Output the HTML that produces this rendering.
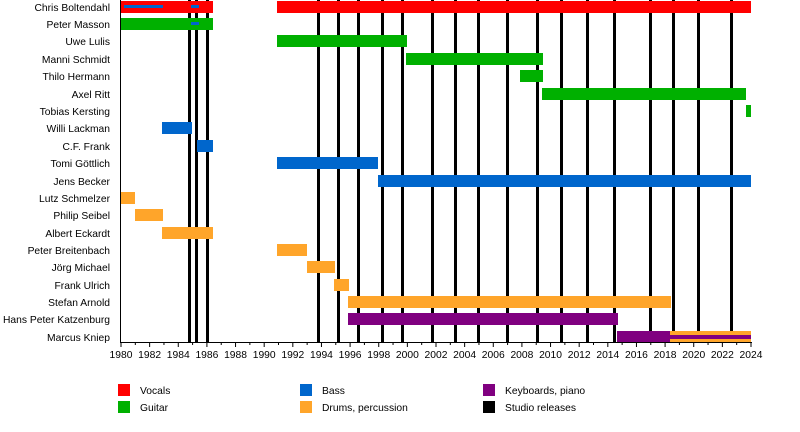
<!DOCTYPE html>
<html><head><meta charset="utf-8"><style>body{margin:0;background:#fff}svg{display:block}text{font-family:"Liberation Sans",sans-serif;font-size:10.3px;fill:#000}</style></head><body>
<svg width="800" height="432" viewBox="0 0 800 432" xmlns="http://www.w3.org/2000/svg">
<g fill="#000">
<rect x="188" y="0" width="3" height="342"/><rect x="195" y="0" width="3" height="342"/><rect x="206" y="0" width="3" height="342"/>
<rect x="317" y="0" width="3" height="342"/><rect x="337" y="0" width="3" height="342"/><rect x="357" y="0" width="3" height="342"/>
<rect x="381" y="0" width="3" height="342"/><rect x="401" y="0" width="3" height="342"/><rect x="431" y="0" width="3" height="342"/>
<rect x="454" y="0" width="3" height="342"/><rect x="477" y="0" width="3" height="342"/><rect x="506" y="0" width="3" height="342"/>
<rect x="536" y="0" width="3" height="342"/><rect x="560" y="0" width="3" height="342"/><rect x="586" y="0" width="3" height="342"/>
<rect x="613" y="0" width="3" height="342"/><rect x="649" y="0" width="3" height="342"/><rect x="672" y="0" width="3" height="342"/>
<rect x="697" y="0" width="3" height="342"/><rect x="730" y="0" width="3" height="342"/>
</g>
<g>
<rect x="121" y="1" width="92" height="12" fill="#ff0000"/>
<rect x="277" y="1" width="474" height="12" fill="#ff0000"/>
<rect x="124" y="5" width="39" height="3" fill="#0066cc"/>
<rect x="191" y="5" width="8" height="3" fill="#0066cc"/>
<rect x="121" y="18" width="92" height="12" fill="#00b000"/>
<rect x="191" y="22" width="8" height="3" fill="#0066cc"/>
<rect x="277" y="35" width="130" height="12" fill="#00b000"/>
<rect x="406" y="53" width="137" height="12" fill="#00b000"/>
<rect x="520" y="70" width="23" height="12" fill="#00b000"/>
<rect x="542" y="88" width="204" height="12" fill="#00b000"/>
<rect x="746" y="105" width="5" height="12" fill="#00b000"/>
<rect x="162" y="122" width="30" height="12" fill="#0066cc"/>
<rect x="197" y="140" width="16" height="12" fill="#0066cc"/>
<rect x="277" y="157" width="101" height="12" fill="#0066cc"/>
<rect x="378" y="175" width="373" height="12" fill="#0066cc"/>
<rect x="121" y="192" width="14" height="12" fill="#ffa52a"/>
<rect x="135" y="209" width="28" height="12" fill="#ffa52a"/>
<rect x="162" y="227" width="51" height="12" fill="#ffa52a"/>
<rect x="277" y="244" width="30" height="12" fill="#ffa52a"/>
<rect x="307" y="261" width="28" height="12" fill="#ffa52a"/>
<rect x="334" y="279" width="15" height="12" fill="#ffa52a"/>
<rect x="348" y="296" width="323" height="12" fill="#ffa52a"/>
<rect x="348" y="313" width="270" height="12" fill="#800080"/>
<rect x="617" y="331" width="54" height="11" fill="#800080"/>
<rect x="670" y="331" width="81" height="11" fill="#ffa52a"/>
<rect x="670" y="335" width="81" height="4" fill="#800080"/>
</g>
<rect x="120" y="0" width="1" height="343" fill="#000"/>
<rect x="120" y="342" width="632" height="1" fill="#000"/>
<g fill="#000" id="ticks"></g>
<g text-anchor="end">
<text x="110" y="11">Chris Boltendahl</text>
<text x="110" y="28">Peter Masson</text>
<text x="110" y="45">Uwe Lulis</text>
<text x="110" y="63">Manni Schmidt</text>
<text x="110" y="80">Thilo Hermann</text>
<text x="110" y="98">Axel Ritt</text>
<text x="110" y="115">Tobias Kersting</text>
<text x="110" y="132">Willi Lackman</text>
<text x="110" y="150">C.F. Frank</text>
<text x="110" y="167">Tomi Göttlich</text>
<text x="110" y="185">Jens Becker</text>
<text x="110" y="202">Lutz Schmelzer</text>
<text x="110" y="219">Philip Seibel</text>
<text x="110" y="237">Albert Eckardt</text>
<text x="110" y="254">Peter Breitenbach</text>
<text x="110" y="271">Jörg Michael</text>
<text x="110" y="289">Frank Ulrich</text>
<text x="110" y="306">Stefan Arnold</text>
<text x="110" y="323">Hans Peter Katzenburg</text>
<text x="110" y="341">Marcus Kniep</text>
</g>
<g text-anchor="middle" id="labels"></g>
<rect x="118" y="384" width="12" height="12" fill="#ff0000"/><text x="140" y="394">Vocals</text>
<rect x="118" y="401" width="12" height="12" fill="#00b000"/><text x="140" y="411">Guitar</text>
<rect x="300" y="384" width="12" height="12" fill="#0066cc"/><text x="322" y="394">Bass</text>
<rect x="300" y="401" width="12" height="12" fill="#ffa52a"/><text x="322" y="411">Drums, percussion</text>
<rect x="483" y="384" width="12" height="12" fill="#800080"/><text x="505" y="394">Keyboards, piano</text>
<rect x="483" y="401" width="12" height="12" fill="#000"/><text x="505" y="411">Studio releases</text>
<script>
var t=document.getElementById('ticks'),l=document.getElementById('labels'),ns='http://www.w3.org/2000/svg';
for(var y=1980;y<=2024;y++){var x=121+(y-1980)*630/44;var r=document.createElementNS(ns,'rect');r.setAttribute('x',x-0.5);r.setAttribute('y',342);r.setAttribute('width',1);r.setAttribute('height',y%2==0?5:3);t.appendChild(r);
if(y%2==0){var s=document.createElementNS(ns,'text');s.setAttribute('x',x);s.setAttribute('y',358);s.textContent=y;l.appendChild(s);}}
</script>
</svg>
</body></html>
